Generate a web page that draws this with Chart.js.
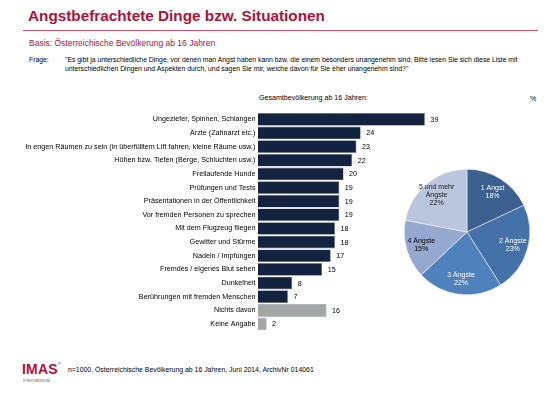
<!DOCTYPE html>
<html>
<head>
<meta charset="utf-8">
<script src="https://cdn.jsdelivr.net/npm/chart.js@4.4.1/dist/chart.umd.min.js"></script>
<style>
	body { margin: 0; width: 560px; height: 395px; background: #fff; position: relative; overflow: hidden;
		font-family: "Liberation Sans", Arial, sans-serif; color: #000; }
	.t { position: absolute; white-space: nowrap; line-height: 1; }
	#title { left: 28px; top: 8px; font-size: 15.3px; font-weight: bold; color: #B0103A; }
	#rule { position: absolute; left: 23px; top: 30px; width: 515px; height: 1px; background: #D0506E; }
	#basis { left: 29px; top: 38.8px; font-size: 8.5px; color: #B0103A; }
	#frageL { left: 29px; top: 55.3px; font-size: 6.8px; line-height: 9px; }
	#frage { left: 65px; top: 55.3px; font-size: 6.85px; line-height: 9px; }
	#gesamt { left: 259px; top: 94.5px; font-size: 7.1px; }
	#pct { left: 530px; top: 94.5px; font-size: 7px; }
	#logo { left: 22px; top: 362px; font-size: 14px; font-weight: bold; color: #B0103A; letter-spacing: 0.2px; }
	#logo sup { font-size: 4px; vertical-align: top; color: #555; }
	#intl { left: 23px; top: 377.5px; font-size: 5px; color: #777; }
	#foot { left: 68px; top: 366.7px; font-size: 6.9px; }
	#bars { position: absolute; left: 0; top: 100px; }
	#pie { position: absolute; left: 397px; top: 162px; }
</style>
</head>
<body>
<div class="t" id="title">Angstbefrachtete Dinge bzw. Situationen</div>
<div id="rule"></div>
<div class="t" id="basis">Basis: Österreichische Bevölkerung ab 16 Jahren</div>
<div class="t" id="frageL">Frage:</div>
<div class="t" id="frage">"Es gibt ja unterschiedliche Dinge, vor denen man Angst haben kann bzw. die einem besonders unangenehm sind. Bitte lesen Sie sich diese Liste mit<br>unterschiedlichen Dingen und Aspekten durch, und sagen Sie mir, welche davon für Sie eher unangenehm sind?"</div>
<div class="t" id="gesamt">Gesamtbevölkerung ab 16 Jahren:</div>
<div class="t" id="pct">%</div>
<div class="t" id="logo">IMAS<sup>®</sup></div>
<div class="t" id="intl">international</div>
<div class="t" id="foot">n=1000, Österreichische Bevölkerung ab 16 Jahren, Juni 2014, ArchivNr 014061</div>

<canvas id="bars" width="470" height="240"></canvas>
<canvas id="pie" width="140" height="140"></canvas>

<script>
var categories = [
	'Ungeziefer, Spinnen, Schlangen',
	'Ärzte (Zahnarzt etc.)',
	'In engen Räumen zu sein (in überfülltem Lift fahren, kleine Räume usw.)',
	'Höhen bzw. Tiefen (Berge, Schluchten usw.)',
	'Freilaufende Hunde',
	'Prüfungen und Tests',
	'Präsentationen in der Öffentlichkeit',
	'Vor fremden Personen zu sprechen',
	'Mit dem Flugzeug fliegen',
	'Gewitter und Stürme',
	'Nadeln / Impfungen',
	'Fremdes / eigenes Blut sehen',
	'Dunkelheit',
	'Berührungen mit fremden Menschen',
	'Nichts davon',
	'Keine Angabe'
];
var values = [39, 24, 23, 22, 20, 19, 19, 19, 18, 18, 17, 15, 8, 7, 16, 2];

var pieLabels = [['1 Angst'], ['2 Ängste'], ['3 Ängste'], ['4 Ängste'], ['5 und mehr', 'Ängste']];
var pieValues = [18, 23, 22, 15, 22];

var FONT = '"Liberation Sans", Arial, sans-serif';
var darkBar = '#13223F';
var greyBar = '#A6A6A6';
var pieColors = ['#3B5F8E', '#4472A8', '#4F81BD', '#95A8D0', '#BAC6DE'];
var pieText = ['#fff', '#fff', '#fff', '#000', '#1a1a1a'];

var barColors = [];
for (var i = 0; i < categories.length; i++) {
	barColors.push(i < 14 ? darkBar : greyBar);
}

// Zahlen rechts neben den Balken
var barValues = {
	id: 'barValues',
	afterDatasetsDraw: function(chart) {
		var ctx = chart.ctx;
		var meta = chart.getDatasetMeta(0);
		ctx.save();
		ctx.font = '7.2px ' + FONT;
		ctx.fillStyle = '#000';
		ctx.textAlign = 'left';
		ctx.textBaseline = 'middle';
		meta.data.forEach(function(bar, i) {
			ctx.fillText(values[i], bar.x + 5.5, bar.y + 0.5);
		});
		ctx.restore();
	}
};

new Chart(document.getElementById('bars'), {
	type: 'bar',
	data: {
		labels: categories,
		datasets: [{
			data: values,
			backgroundColor: barColors,
			borderColor: '#7c8798',
			borderWidth: 0.6,
			barPercentage: 0.93,
			categoryPercentage: 1
		}]
	},
	options: {
		indexAxis: 'y',
		responsive: false,
		animation: false,
		layout: { padding: { top: 12.5, bottom: 9.2, right: 40.8, left: 0 } },
		plugins: { legend: { display: false }, tooltip: { enabled: false } },
		scales: {
			x: { display: false, min: 0, max: 40 },
			y: {
				grid: { display: false, drawTicks: false },
				border: { display: false },
				ticks: { color: '#000', padding: 2.5, font: { family: FONT, size: 7.2 } },
				afterFit: function(scale) { scale.width = 258; }
			}
		}
	},
	plugins: [barValues]
});

// Beschriftung in den Tortenstücken
var pieText_ = {
	id: 'pieText',
	afterDatasetsDraw: function(chart) {
		var ctx = chart.ctx;
		var meta = chart.getDatasetMeta(0);
		ctx.save();
		ctx.font = '7px ' + FONT;
		ctx.textAlign = 'center';
		ctx.textBaseline = 'middle';
		meta.data.forEach(function(arc, i) {
			var mid = (arc.startAngle + arc.endAngle) / 2;
			var r = arc.outerRadius * 0.76;
			var x = arc.x + Math.cos(mid) * r;
			var y = arc.y + Math.sin(mid) * r;
			var lines = pieLabels[i].concat([pieValues[i] + '%']);
			var lh = 8;
			var y0 = y - (lines.length - 1) * lh / 2;
			ctx.fillStyle = pieText[i];
			lines.forEach(function(l, k) {
				ctx.fillText(l, x, y0 + k * lh);
			});
		});
		ctx.restore();
	}
};

new Chart(document.getElementById('pie'), {
	type: 'pie',
	data: {
		labels: pieLabels.map(function(l) { return l.join(' '); }),
		datasets: [{
			data: pieValues,
			backgroundColor: pieColors,
			borderColor: '#fff',
			borderWidth: 0.5
		}]
	},
	options: {
		responsive: false,
		animation: false,
		layout: { padding: 7 },
		plugins: { legend: { display: false }, tooltip: { enabled: false } }
	},
	plugins: [pieText_]
});
</script>
</body>
</html>
